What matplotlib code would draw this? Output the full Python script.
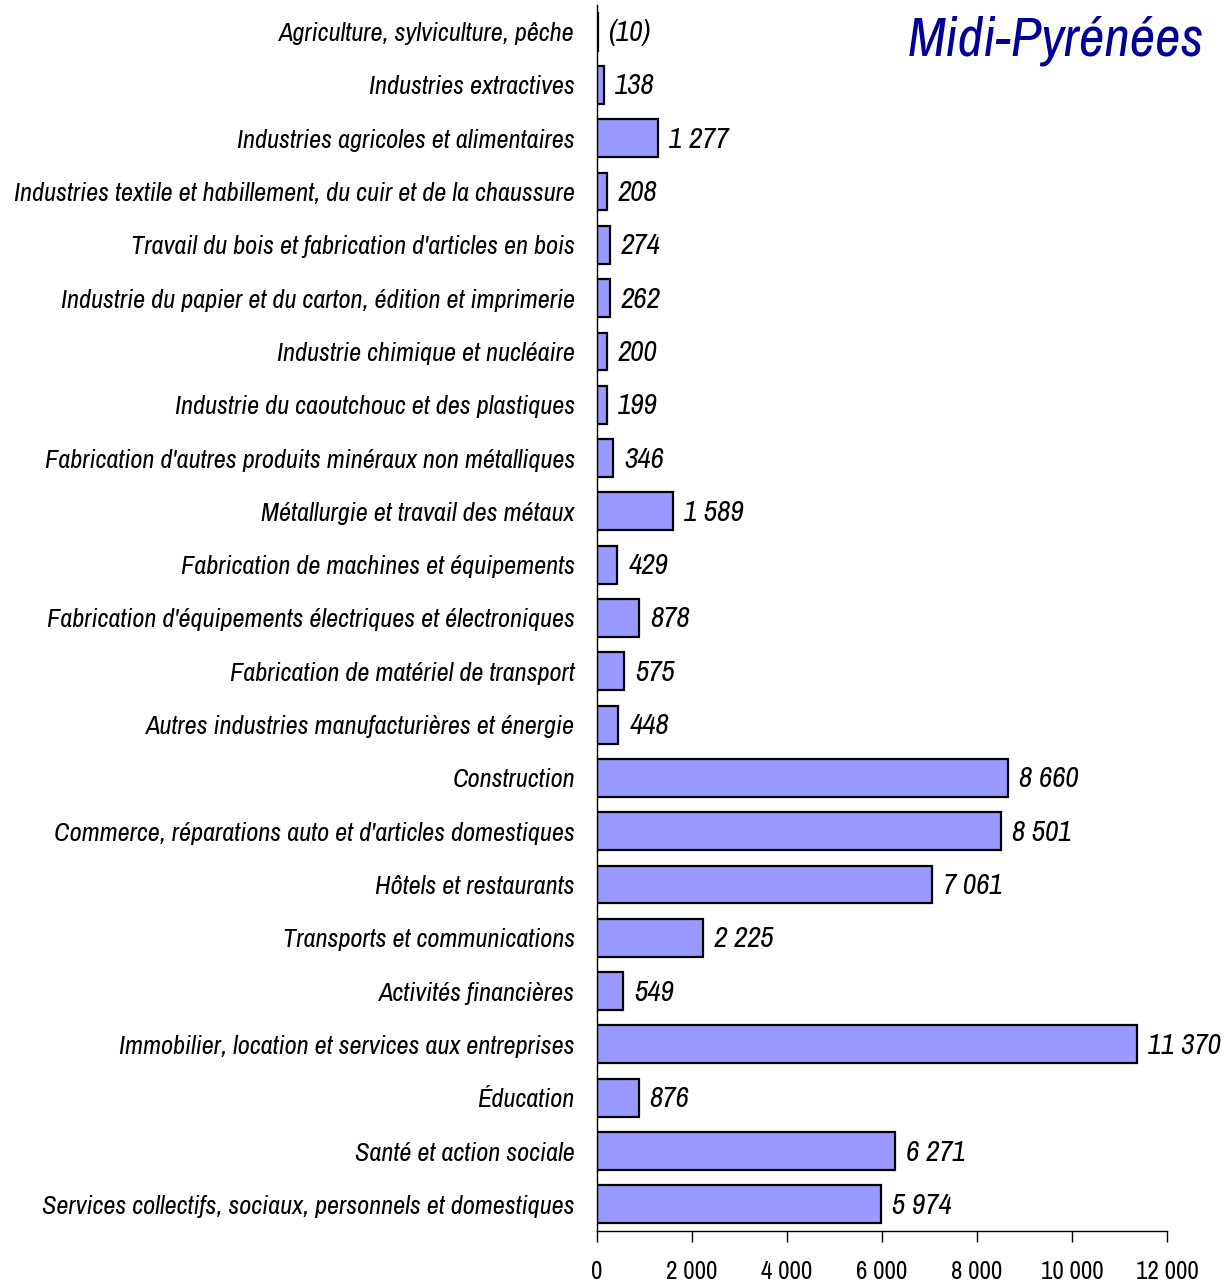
import matplotlib
matplotlib.use("Agg")
import matplotlib.pyplot as plt
from matplotlib import font_manager

names = {f.name for f in font_manager.fontManager.ttflist}
FAM = "Archivo Narrow" if "Archivo Narrow" in names else "Liberation Sans"

categories = [
    "Agriculture, sylviculture, pêche",
    "Industries extractives",
    "Industries agricoles et alimentaires",
    "Industries textile et habillement, du cuir et de la chaussure",
    "Travail du bois et fabrication d'articles en bois",
    "Industrie du papier et du carton, édition et imprimerie",
    "Industrie chimique et nucléaire",
    "Industrie du caoutchouc et des plastiques",
    "Fabrication d'autres produits minéraux non métalliques",
    "Métallurgie et travail des métaux",
    "Fabrication de machines et équipements",
    "Fabrication d'équipements électriques et électroniques",
    "Fabrication de matériel de transport",
    "Autres industries manufacturières et énergie",
    "Construction",
    "Commerce, réparations auto et d'articles domestiques",
    "Hôtels et restaurants",
    "Transports et communications",
    "Activités financières",
    "Immobilier, location et services aux entreprises",
    "Éducation",
    "Santé et action sociale",
    "Services collectifs, sociaux, personnels et domestiques",
]
values = [10, 138, 1277, 208, 274, 262, 200, 199, 346, 1589, 429, 878, 575, 448,
          8660, 8501, 7061, 2225, 549, 11370, 876, 6271, 5974]
value_labels = ["(10)", "138", "1 277", "208", "274", "262", "200", "199", "346",
                "1 589", "429", "878", "575", "448", "8 660", "8 501", "7 061",
                "2 225", "549", "11 370", "876", "6 271", "5 974"]
xticks = [0, 2000, 4000, 6000, 8000, 10000, 12000]
xtick_labels = ["0", "2 000", "4 000", "6 000", "8 000", "10 000", "12 000"]
title = "Midi-Pyrénées"

fig = plt.figure(figsize=(12.27, 12.82), dpi=100)
ax = fig.add_axes([0.4866, 0.0398, 0.4646, 0.9563])

ypos = list(range(len(categories)))
ax.barh(ypos, values, height=0.71, color="#9999FF", edgecolor="black", linewidth=1.6)
ax.set_ylim(len(categories) - 0.5, -0.5)
ax.set_xlim(0, 12000)

for y, v, lab in zip(ypos, values, value_labels):
    ax.annotate(lab, (v, y), xytext=(11, -1), textcoords="offset pixels",
                va="center", ha="left", fontsize=21, style="italic", family=FAM,
                fontweight="semibold")

ax.set_yticks(ypos)
ax.set_yticklabels(categories, fontsize=19, style="italic", family=FAM)
ax.tick_params(axis="y", length=0, pad=16)
ax.set_xticks(xticks)
ax.set_xticklabels(xtick_labels, fontsize=18, family=FAM)
ax.tick_params(axis="x", direction="out", length=8, width=1, pad=13)

for s in ["top", "right"]:
    ax.spines[s].set_visible(False)
ax.spines["left"].set_linewidth(1)
ax.spines["bottom"].set_linewidth(1)

fig.text(0.981, 0.968, title, ha="right", va="center", fontsize=40, style="italic",
         family=FAM, color="#000099")

fig.savefig("out.png", dpi=100)
